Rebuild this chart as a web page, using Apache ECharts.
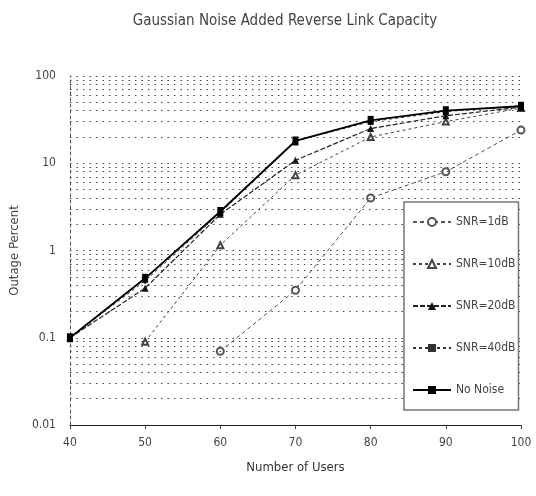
<!DOCTYPE html>
<html><head><meta charset="utf-8">
<script src="https://cdn.jsdelivr.net/npm/echarts@6/dist/echarts.min.js"></script>
<style>html,body{margin:0;padding:0;background:#fff}#c{width:536px;height:496px}</style>
</head><body><div id="c"></div>
<script>
const users = ['40','50','60','70','80','90','100'];
const snr1 = ['-','-',0.07,0.35,4.0,8.0,24];
const snr10 = ['-',0.09,1.15,7.3,20,30,43];
const snr20 = [0.1,0.37,2.6,10.8,25,35,44];
const snr40 = [0.1,0.45,2.7,18,30,39,46];
const noNoise = [0.1,0.48,2.8,18,31,40,45];
const yTicks = [0.01,0.1,1,10,100];
const gridVals = [];
[0.01,0.1,1,10].forEach(d=>{for(let k=1;k<=9;k++){if(!(d===0.01&&k===1))gridVals.push(+(d*k).toPrecision(3));}});
gridVals.push(100);

const FONT = "'Liberation Sans Narrow','DejaVu Sans Condensed','Roboto Condensed',sans-serif";
const chart = echarts.init(document.getElementById('c'));
const base = {type:'line', symbolSize:6, connectNulls:false};
chart.setOption({
  animation:false,
  backgroundColor:'#fff',
  title:{text:'Gaussian Noise Added Reverse Link Capacity', left:280, textAlign:'center', top:9,
    textStyle:{fontFamily:FONT, fontSize:15, fontWeight:'normal', color:'#444'}},
  grid:{left:60, right:15, top:76, bottom:71},
  xAxis:{type:'category', data:users, boundaryGap:false, name:'Number of Users', nameLocation:'middle', nameGap:36,
    nameTextStyle:{fontFamily:FONT, fontSize:13, color:'#333'},
    axisLine:{lineStyle:{color:'#222', width:1}}, axisTick:{show:true, alignWithLabel:true, length:4, lineStyle:{color:'#444'}},
    axisLabel:{fontFamily:FONT, fontSize:12, color:'#444', margin:12}, splitLine:{show:false}},
  yAxis:{type:'log', logBase:10, min:0.01, max:100, name:'Outage Percent', nameLocation:'middle', nameGap:36,
    nameTextStyle:{fontFamily:FONT, fontSize:13, color:'#444'},
    axisLine:{show:true, lineStyle:{color:'#555', type:[3,3]}}, axisTick:{show:false},
    axisLabel:{fontFamily:FONT, fontSize:12, color:'#444', margin:14, formatter:v=>String(+v.toPrecision(3))},
    splitLine:{show:false}},
  legend:{orient:'vertical', left:404, top:202, z:20, itemWidth:38, itemHeight:10, itemGap:30,
    padding:[14,3,14,8], borderColor:'#777', borderWidth:1.5, backgroundColor:'#fff',
    textStyle:{fontFamily:FONT, fontSize:12, color:'#444'},
    data:['SNR=1dB','SNR=10dB','SNR=20dB','SNR=40dB','No Noise']},
  series:[
    Object.assign({}, base, {name:'SNR=1dB', data:snr1, symbol:'emptyCircle', symbolSize:7,
      itemStyle:{color:'#555'}, lineStyle:{color:'#555', width:1, type:[4,3]},
      markLine:{silent:true, symbol:'none', label:{show:false}, animation:false,
        lineStyle:{color:'#444', type:[1.5,5], width:1.2},
        data:gridVals.map(v=>({yAxis:v}))}, z:3}),
    Object.assign({}, base, {name:'SNR=10dB', data:snr10, symbol:'emptyTriangle', symbolSize:6,
      itemStyle:{color:'#444'}, lineStyle:{color:'#444', width:1, type:[3,3]}, z:4}),
    Object.assign({}, base, {name:'SNR=20dB', data:snr20, symbol:'triangle', symbolSize:7,
      itemStyle:{color:'#111'}, lineStyle:{color:'#222', width:1.2, type:[5,2]}, z:5}),
    Object.assign({}, base, {name:'SNR=40dB', data:snr40, symbol:'rect', symbolSize:[2,6],
      itemStyle:{color:'#333'}, lineStyle:{color:'#333', width:1, type:[3,3]}, z:5}),
    Object.assign({}, base, {name:'No Noise', data:noNoise, symbol:'rect', symbolSize:[6,9],
      itemStyle:{color:'#000'}, lineStyle:{color:'#000', width:1.8}, z:6})
  ]
});
</script></body></html>
